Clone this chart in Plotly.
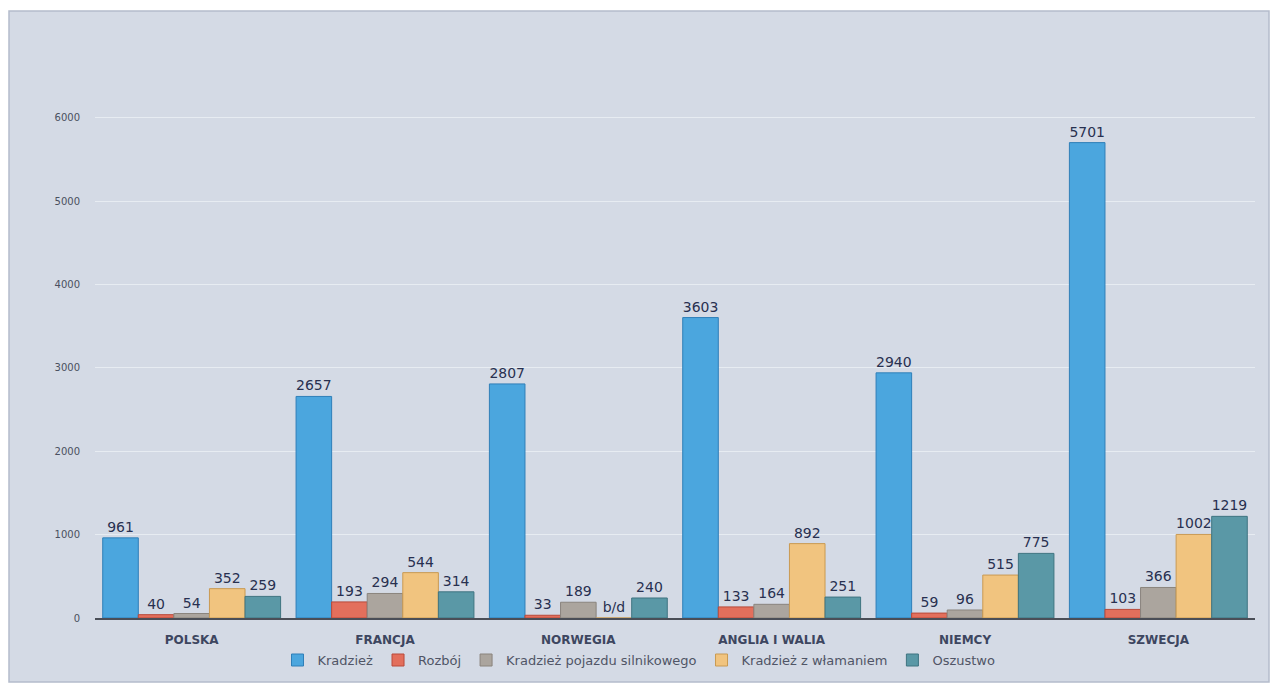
import plotly.graph_objects as go

countries = ["POLSKA", "FRANCJA", "NORWEGIA", "ANGLIA I WALIA", "NIEMCY", "SZWECJA"]
series_names = ["Kradzież", "Rozbój", "Kradzież pojazdu silnikowego", "Kradzież z włamaniem", "Oszustwo"]
kradziez = [961, 2657, 2807, 3603, 2940, 5701]
rozboj = [40, 193, 33, 133, 59, 103]
pojazd = [54, 294, 189, 164, 96, 366]
wlamanie = [352, 544, None, 892, 515, 1002]
oszustwo = [259, 314, 240, 251, 775, 1219]
y_ticks = [0, 1000, 2000, 3000, 4000, 5000, 6000]

series = [kradziez, rozboj, pojazd, wlamanie, oszustwo]
colors = ["#4ba6de", "#e36f5c", "#aba59e", "#f1c47f", "#5a98a6"]
edge = ["#2f7fb8", "#b94a3a", "#8a847d", "#c99a52", "#3f7481"]

fig = go.Figure()
for name, vals, col, ec in zip(series_names, series, colors, edge):
    ys = [v if v is not None else 0 for v in vals]
    txt = [str(v) if v is not None else "b/d" for v in vals]
    fig.add_trace(go.Bar(
        x=countries, y=ys, name=name, text=txt,
        textposition="outside", cliponaxis=False,
        textfont=dict(family="DejaVu Sans", size=14, color="#283050"),
        marker=dict(color=col, line=dict(color=ec, width=1)),
    ))

# page body has an 8px margin, so the figure is sized to fit inside the window
W, H = 1262, 675
L, R, T, B = 87, 15, 93, 65
pw, ph = W - L - R, H - T - B

fig.update_layout(
    width=W, height=H,
    barmode="group", bargap=0.08, bargroupgap=0.0,
    paper_bgcolor="#ffffff", plot_bgcolor="rgba(0,0,0,0)",
    margin=dict(l=L, r=R, t=T, b=B, autoexpand=False),
    font=dict(family="DejaVu Sans", color="#444"),
    xaxis=dict(showline=True, linecolor="#4a4e57", linewidth=2, ticks="",
               tickfont=dict(family="DejaVu Sans", size=12, color="#3d4660", weight="bold"),
               ticklabelstandoff=10, showgrid=False, automargin=False),
    yaxis=dict(range=[0, 6200], tickvals=y_ticks, showgrid=True,
               gridcolor="rgba(240,243,248,0.7)", zeroline=False,
               tickfont=dict(family="DejaVu Sans", size=10, color="#4a5060"),
               ticklabelstandoff=14, automargin=False),
    legend=dict(orientation="h", xref="container", x=0.5, xanchor="center",
                yref="container", y=0.034, yanchor="middle",
                font=dict(family="DejaVu Sans", size=13, color="#505566"),
                bgcolor="rgba(0,0,0,0)", traceorder="normal", itemwidth=30,
                tracegroupgap=0),
)
fig.add_shape(type="rect", xref="paper", yref="paper",
              x0=(1 - L) / pw, x1=(1261 - L) / pw,
              y0=(H - B - 674) / ph, y1=(H - B - 3) / ph,
              line=dict(color="#b4bccb", width=1.5), fillcolor="#d4dae5", layer="below")
fig.write_html("out.html")
